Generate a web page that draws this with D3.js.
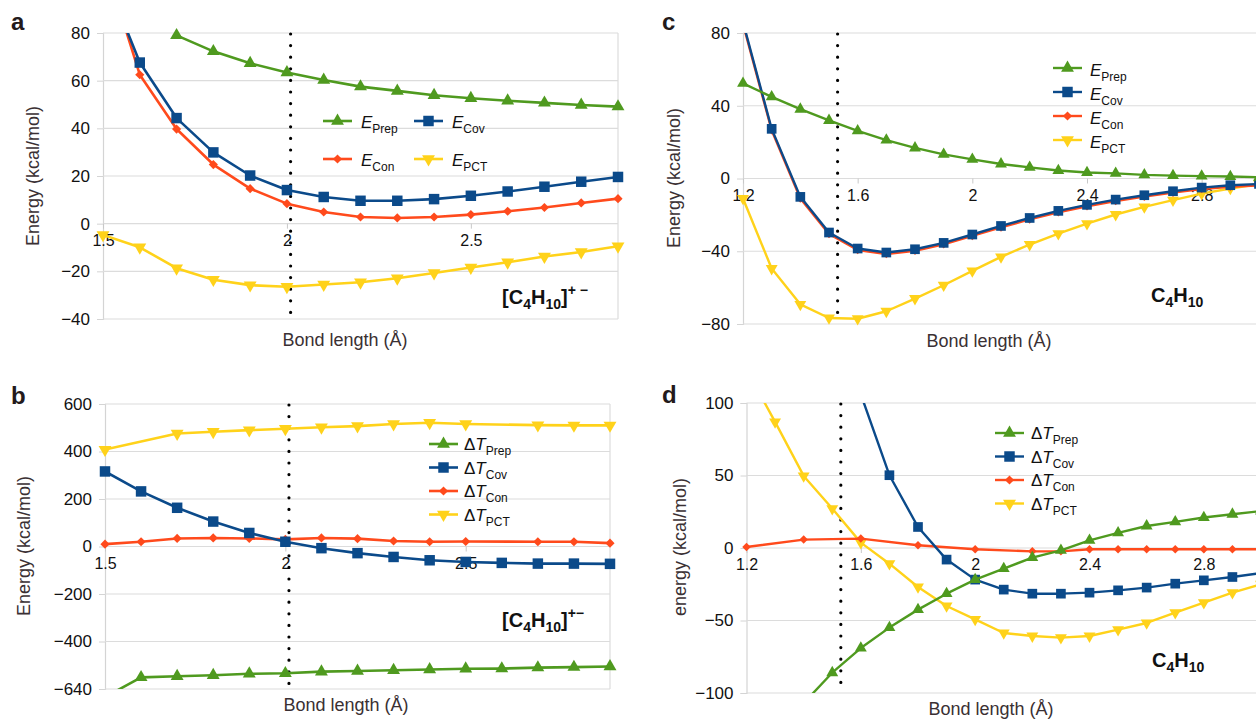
<!DOCTYPE html>
<html><head><meta charset="utf-8">
<script src="https://cdn.jsdelivr.net/npm/d3@7"></script>
<style>
body{margin:0;background:#fff}
svg{display:block}
text{font-family:"Liberation Sans",Arial,Helvetica,sans-serif}
</style>
</head><body>
<svg id="chart" width="1256" height="720"></svg>
<script>
// ---------------- DATA ----------------
// Panel a: [C4H10]+- energies (kcal/mol)
const bondA = [1.5,1.6,1.7,1.8,1.9,2.0,2.1,2.2,2.3,2.4,2.5,2.6,2.7,2.8,2.9];
const aPrep = [null,null,79,72.3,67.3,63.4,60.3,57.5,55.7,53.9,52.6,51.6,50.7,49.8,49.1];
const aCov  = [106,67.6,44.3,29.9,20.2,14.1,11.2,9.6,9.6,10.3,11.7,13.5,15.5,17.6,19.6];
const aCon  = [112,62.5,39.7,24.8,14.7,8.4,4.9,2.8,2.4,2.8,3.8,5.2,6.8,8.7,10.5];
const aPct  = [-4.7,-9.9,-18.7,-23.5,-25.8,-26.5,-25.5,-24.6,-22.9,-20.7,-18.4,-16.2,-13.8,-11.9,-9.5];

// Panel b: [C4H10]+- kinetic terms
const bondB = [1.5,1.6,1.7,1.8,1.9,2.0,2.1,2.2,2.3,2.4,2.5,2.6,2.7,2.8,2.9];
const bPrep = [-634,-551,-546,-542,-536,-534,-527,-524,-521,-518,-515,-514,-510,-508,-505];
const bCov  = [316,232,163,105,57,20,-7,-28,-44,-58,-65,-69,-72,-72,-73];
const bCon  = [10,20,34,36,34,30,36,33,23,20,21,null,20,20,14];
const bPct  = [408,null,476,483,490,496,502,507,516,521,516,null,511,510,510];

// Panel c: C4H10 energies
const bondC = [1.2,1.3,1.4,1.5,1.6,1.7,1.8,1.9,2.0,2.1,2.2,2.3,2.4,2.5,2.6,2.7,2.8,2.9,3.0];
const cPrep = [52.3,44.9,38.1,31.9,26.2,21.1,16.8,13.3,10.5,8.0,6.1,4.4,3.3,2.8,2.0,1.6,1.3,1.1,0.7];
const cCov  = [86,27.3,-10.1,-29.7,-38.5,-40.7,-38.9,-35.4,-30.8,-26.1,-21.7,-17.8,-14.5,-11.6,-9.2,-7.0,-5.0,-3.7,-3.0];
const cCon  = [85,26.5,-11.0,-30.5,-39.3,-41.5,-39.7,-36.2,-31.6,-26.9,-22.5,-18.6,-15.3,-12.4,-10.0,-7.8,-5.8,-4.5,-3.8];
const cPct  = [-11.0,-49.5,-69.2,-76.7,-77.1,-73.0,-66.0,-58.7,-50.8,-43.1,-36.3,-30.3,-24.8,-19.8,-15.6,-11.9,-8.3,-5.5,-3.0];

// Panel d: C4H10 kinetic terms
const bondD = [1.2,1.3,1.4,1.5,1.6,1.7,1.8,1.9,2.0,2.1,2.2,2.3,2.4,2.5,2.6,2.7,2.8,2.9,3.0];
const dPrep = [null,null,-107,-86.0,-69.0,-54.9,-42.5,-31.5,-21.8,-14.2,-6.6,-1.6,5.3,10.4,15.2,18.0,21.0,23.3,25.5];
const dCov  = [null,null,null,null,106,50.2,14.5,-8.0,-21.8,-28.7,-31.5,-31.5,-30.8,-29.2,-27.3,-24.6,-22.3,-20.0,-17.3];
const dCon  = [0.7,null,5.8,null,6.5,null,1.9,null,-0.9,null,-2.3,-2.3,-0.9,-0.9,-0.9,-0.9,-0.9,-0.9,-0.9];
const dPct  = [123,87.0,49.7,27.2,3.7,-10.8,-26.9,-40.0,-49.2,-58.6,-60.7,-61.8,-60.7,-56.3,-51.7,-44.6,-37.7,-30.8,-25.0];

// Equilibrium bond lengths (dotted lines)
const eqBondIon = 2.01;
const eqBondNeutral = 1.53;

// Tick values and labels
const yTicksA = [80,60,40,20,0,-20,-40];
const yTicksB = [600,400,200,0,-200,-400,-600];
const yLabelsB = ["600","400","200","0","\u2212200","\u2212400","\u2212640"];
const yTicksC = [80,40,0,-40,-80];
const yTicksD = [100,50,0,-50,-100];
const xTicksAB = [1.5,2,2.5];
const xTicksCD = [1.2,1.6,2,2.4,2.8];

const seriesSubs = ["Prep","Cov","Con","PCT"];
const panelLetters = ["a","b","c","d"];
const xTitle = "Bond length (\u00C5)";
const yTitles = ["Energy (kcal/mol)","Energy (kcal/mol)","Energy (kcal/mol)","energy (kcal/mol)"];

// ---------------- STYLE ----------------
const COLORS = ["#4f9a1f","#0b4a8a","#ff4a1c","#ffd21a"]; // prep, cov, con, pct
const SHAPES = ["tri","sq","dia","tridown"];
const svg = d3.select("#chart");
const fmt = d3.format("");

function symbolPath(shape, big) {
  const k = big ? 1 : 0.85;
  if (shape === "tri") return d3.symbol(d3.symbolTriangle, 72*k)();
  if (shape === "tridown") return d3.symbol(d3.symbolTriangle, 72*k)();
  if (shape === "sq") return d3.symbol(d3.symbolSquare, 110*k)();
  return d3.symbol(d3.symbolSquare, 42*k)();
}
function symbolRot(shape) {
  if (shape === "tridown") return 180;
  if (shape === "dia") return 45;
  return 0;
}

function drawPanel(cfg) {
  const g = svg.append("g");
  const x = d3.scaleLinear().domain(cfg.xDomain).range([cfg.left, cfg.right]);
  const y = d3.scaleLinear().domain(cfg.yDomain).range([cfg.bottom, cfg.top]);
  const clipId = "clip-" + cfg.letter;
  svg.append("clipPath").attr("id", clipId).append("rect")
    .attr("x", cfg.left).attr("y", cfg.top)
    .attr("width", cfg.right - cfg.left).attr("height", cfg.bottom - cfg.top);

  // y axis with gridlines
  const yAxis = d3.axisLeft(y).tickValues(cfg.yTicks)
    .tickFormat((d,i) => cfg.yLabels ? cfg.yLabels[i] : fmt(d).replace("-", "\u2212"))
    .tickSize(6).tickPadding(7);
  const ya = g.append("g").attr("transform", `translate(${cfg.left},0)`).call(yAxis);
  ya.select(".domain").attr("stroke", "#d4d4d4").attr("stroke-width", 1.2);
  ya.selectAll(".tick line").attr("stroke", "#d4d4d4");
  ya.selectAll(".tick text").attr("font-size", 17).attr("fill", "#111")
    .attr("font-family", '"Liberation Sans",Arial,sans-serif');
  g.append("g").selectAll("line").data(cfg.yTicks).join("line")
    .attr("x1", cfg.left).attr("x2", cfg.right)
    .attr("y1", d => y(d)).attr("y2", d => y(d))
    .attr("stroke", "#dcdcdc").attr("stroke-width", 1.2);
  // right border
  g.append("line").attr("x1", cfg.right).attr("x2", cfg.right)
    .attr("y1", cfg.top).attr("y2", cfg.bottom).attr("stroke", "#dcdcdc").attr("stroke-width", 1.2);

  // x axis at y=0
  const xAxis = d3.axisBottom(x).tickValues(cfg.xTicks).tickFormat(d => fmt(d)).tickSize(5).tickPadding(6);
  const xa = g.append("g").attr("transform", `translate(0,${y(0)})`).call(xAxis);
  xa.select(".domain").remove();
  xa.selectAll(".tick line").attr("stroke", "#c8c8c8");
  xa.selectAll(".tick text").attr("font-size", 16).attr("fill", "#111")
    .attr("font-family", '"Liberation Sans",Arial,sans-serif');

  // dotted reference line
  g.append("line").attr("x1", x(cfg.eq)).attr("x2", x(cfg.eq))
    .attr("y1", cfg.top + 1).attr("y2", cfg.bottom - 4)
    .attr("stroke", "#000").attr("stroke-width", 3.2)
    .attr("stroke-linecap", "round").attr("stroke-dasharray", "0 11.6");

  // series: draw in order pct, con, cov, prep
  const order = [3,2,1,0];
  const line = d3.line().x(d => x(d[0])).y(d => y(d[1]));
  const [y0, y1] = cfg.yDomain;
  order.forEach(si => {
    const vals = cfg.series[si];
    const pts = cfg.xs.map((b,i) => [b, vals[i]]).filter(d => d[1] !== null);
    g.append("path").datum(pts).attr("d", line)
      .attr("fill", "none").attr("stroke", COLORS[si])
      .attr("stroke-width", cfg.lw).attr("stroke-linejoin", "round")
      .attr("clip-path", `url(#${clipId})`);
    const vis = pts.filter(d => d[1] >= y0 - 0.5 && d[1] <= y1 + 0.5 && d[0] <= cfg.xDomain[1] + 1e-9);
    g.append("g").selectAll("path").data(vis).join("path")
      .attr("d", symbolPath(SHAPES[si], cfg.big))
      .attr("transform", d => `translate(${x(d[0])},${y(d[1])}) rotate(${symbolRot(SHAPES[si])})`)
      .attr("fill", COLORS[si]);
  });

  // legend
  cfg.legendPos.forEach((p, si) => {
    const lg = g.append("g");
    lg.append("line").attr("x1", p[0]).attr("x2", p[0] + 29).attr("y1", p[1]).attr("y2", p[1])
      .attr("stroke", COLORS[si]).attr("stroke-width", cfg.lw);
    lg.append("path").attr("d", symbolPath(SHAPES[si], true))
      .attr("transform", `translate(${p[0] + 14.5},${p[1]}) rotate(${symbolRot(SHAPES[si])})`)
      .attr("fill", COLORS[si]);
    const t = lg.append("text").attr("x", p[0] + cfg.legendGap).attr("y", p[1] + cfg.legendDy)
      .attr("font-size", 17).attr("fill", "#111");
    if (cfg.delta) {
      t.append("tspan").text("\u0394");
      t.append("tspan").attr("font-style", "italic").text("T");
    } else {
      t.append("tspan").attr("font-style", "italic").text("E");
    }
    t.append("tspan").attr("font-size", 12).attr("dy", 5).text(seriesSubs[si]);
  });

  // formula label
  const f = g.append("text").attr("x", cfg.formula[0]).attr("y", cfg.formula[1])
    .attr("font-size", 20).attr("font-weight", "bold").attr("fill", "#111");
  if (cfg.ion) f.append("tspan").text("[");
  f.append("tspan").text("C");
  f.append("tspan").attr("font-size", 14).attr("dy", 5).text("4");
  f.append("tspan").attr("dy", -5).text("H");
  f.append("tspan").attr("font-size", 14).attr("dy", 5).text("10");
  if (cfg.ion) {
    f.append("tspan").attr("dy", -5).text("]");
    f.append("tspan").attr("font-size", 14).attr("dy", -9).text(cfg.ion);
  }

  // axis titles
  g.append("text").attr("x", cfg.xTitlePos[0]).attr("y", cfg.xTitlePos[1])
    .attr("text-anchor", "middle").attr("font-size", 18).attr("fill", "#3a3033").text(xTitle);
  g.append("text").attr("transform", `translate(${cfg.yTitlePos[0]},${cfg.yTitlePos[1]}) rotate(-90)`)
    .attr("text-anchor", "middle").attr("font-size", 18).attr("fill", "#3a3033").text(cfg.yTitle);

  // panel letter
  g.append("text").attr("x", cfg.letterPos[0]).attr("y", cfg.letterPos[1])
    .attr("font-size", 24).attr("font-weight", "bold").attr("fill", "#231a1b").text(cfg.letter);
}

drawPanel({
  letter: panelLetters[0], left: 103, right: 618, top: 33, bottom: 319,
  xDomain: [1.5, 2.9], yDomain: [-40, 80], yTicks: yTicksA, xTicks: xTicksAB,
  xs: bondA, series: [aPrep, aCov, aCon, aPct], eq: eqBondIon, lw: 2.6, big: true,
  legendPos: [[323,121],[414,121],[323,159],[414,159]], legendGap: 38, legendDy: 7, delta: false,
  formula: [502, 304], ion: "+ \u2212",
  xTitlePos: [345, 346], yTitlePos: [39, 176], yTitle: yTitles[0], letterPos: [11, 30]
});
drawPanel({
  letter: panelLetters[1], left: 105, right: 610, top: 404, bottom: 689,
  xDomain: [1.5, 2.9], yDomain: [-600, 600], yTicks: yTicksB, yLabels: yLabelsB, xTicks: xTicksAB,
  xs: bondB, series: [bPrep, bCov, bCon, bPct], eq: eqBondIon, lw: 2.6, big: true,
  legendPos: [[429,444],[429,467.5],[429,491],[429,514.5]], legendGap: 35, legendDy: 6, delta: true,
  formula: [502, 627], ion: "+\u2212",
  xTitlePos: [346, 711], yTitlePos: [30, 546], yTitle: yTitles[1], letterPos: [11, 404]
});
drawPanel({
  letter: panelLetters[2], left: 743, right: 1259, top: 33, bottom: 324,
  xDomain: [1.2, 3.0], yDomain: [-80, 80], yTicks: yTicksC, xTicks: xTicksCD,
  xs: bondC, series: [cPrep, cCov, cCon, cPct], eq: eqBondNeutral, lw: 2.4, big: false,
  legendPos: [[1053,68],[1053,92],[1053,116],[1053,140]], legendGap: 37, legendDy: 8, delta: false,
  formula: [1151, 302], ion: null,
  xTitlePos: [989, 347], yTitlePos: [680, 178], yTitle: yTitles[2], letterPos: [662, 30]
});
drawPanel({
  letter: panelLetters[3], left: 746.5, right: 1261, top: 403, bottom: 693,
  xDomain: [1.2, 3.0], yDomain: [-100, 100], yTicks: yTicksD, xTicks: xTicksCD,
  xs: bondD, series: [dPrep, dCov, dCon, dPct], eq: eqBondNeutral, lw: 2.4, big: false,
  legendPos: [[995,433],[995,456.5],[995,480],[995,503.5]], legendGap: 36, legendDy: 6, delta: true,
  formula: [1152, 667], ion: null,
  xTitlePos: [991, 715], yTitlePos: [686, 547], yTitle: yTitles[3], letterPos: [662, 403]
});
</script>
</body></html>
